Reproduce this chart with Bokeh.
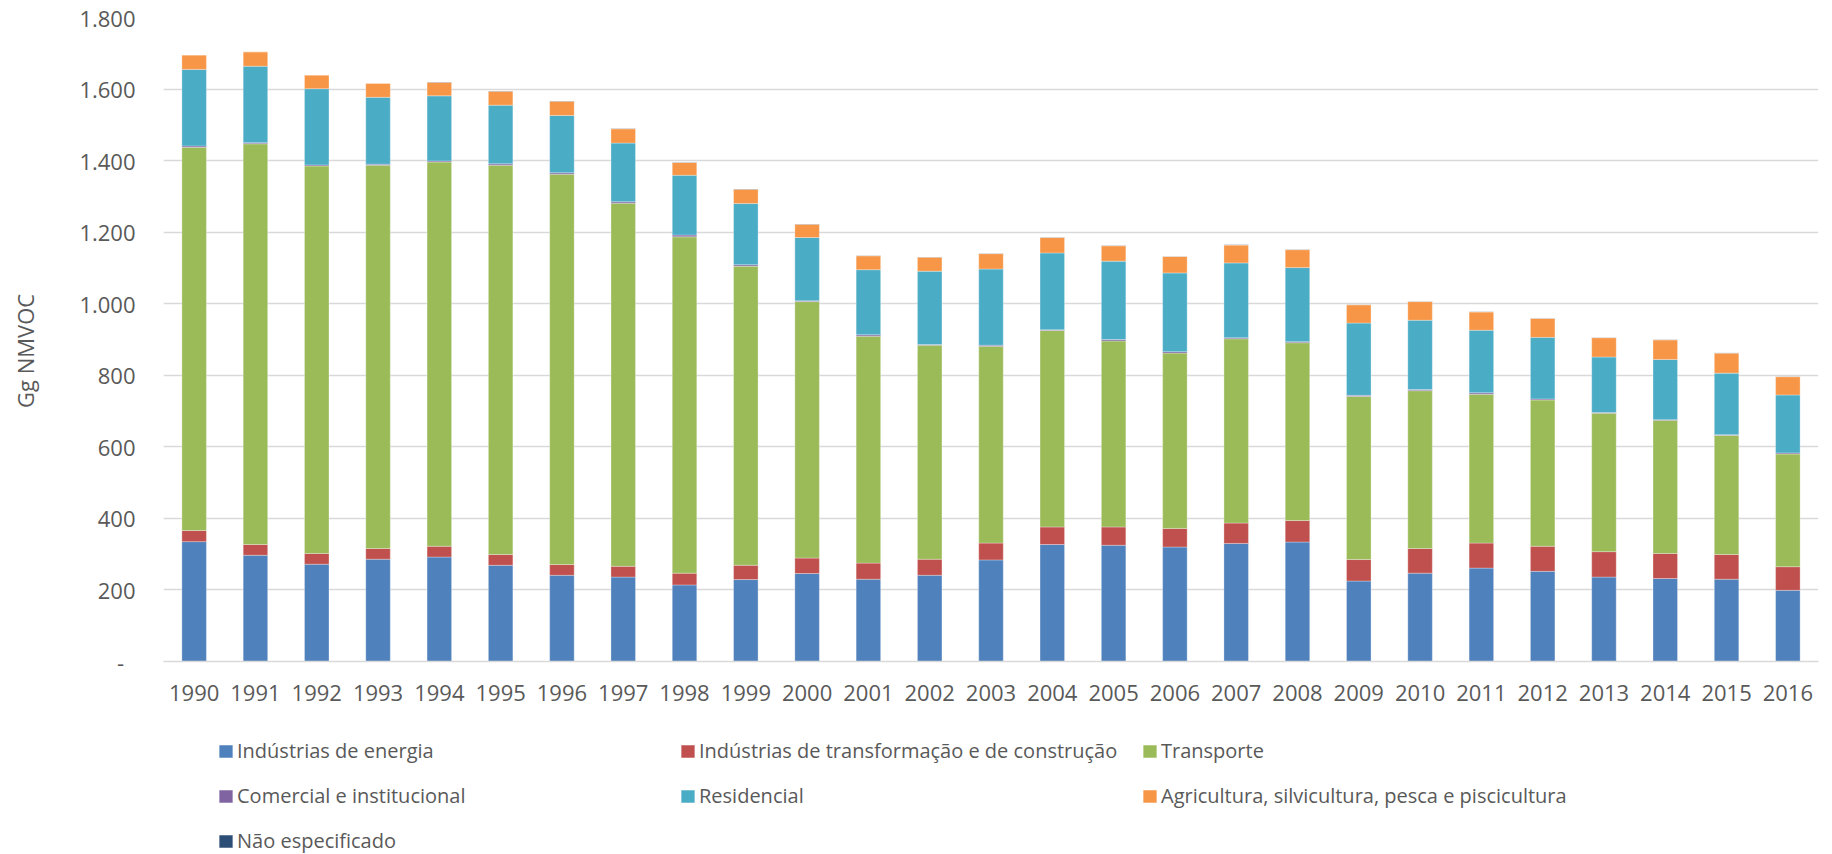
from bokeh.plotting import figure
from bokeh.models import ColumnDataSource, FixedTicker, Legend, LegendItem, FactorRange, Range1d
from bokeh.layouts import column
from bokeh.embed import file_html
from bokeh.resources import INLINE

years = [str(y) for y in range(1990, 2017)]

energia = [335, 297, 272, 286, 292, 269, 241, 236, 214, 229, 246, 230, 241, 284, 327, 325, 320, 330, 334, 225, 247, 261, 252, 236, 232, 230, 199]
transformacao = [31, 30, 30, 30, 30, 30, 30, 30, 33, 40, 43, 45, 45, 47, 49, 51, 52, 57, 60, 60, 69, 70, 70, 71, 70, 69, 66]
transporte = [1071, 1120, 1083, 1071, 1074, 1088, 1091, 1015, 940, 836, 717, 634, 598, 550, 549, 520, 490, 515, 497, 456, 441, 416, 409, 387, 372, 333, 315]
comercial = [4, 3, 3, 3, 3, 4, 4, 4, 5, 4, 2, 4, 2, 3, 2, 4, 4, 3, 3, 3, 3, 4, 3, 2, 2, 2, 3]
residencial = [214, 214, 213, 187, 182, 164, 160, 164, 167, 171, 177, 182, 205, 213, 215, 219, 220, 209, 207, 202, 194, 175, 172, 155, 168, 172, 162]
agricultura = [40, 40, 38, 39, 38, 39, 40, 40, 36, 40, 37, 39, 39, 43, 43, 43, 46, 50, 50, 51, 52, 51, 53, 54, 55, 56, 51]
nao_especificado = [0.5] * 27

series_labels = [
    "Indústrias de energia",
    "Indústrias de transformação e de construção",
    "Transporte",
    "Comercial e institucional",
    "Residencial",
    "Agricultura, silvicultura, pesca e piscicultura",
    "Não especificado",
]
colors = ["#4F81BD", "#C0504D", "#9BBB59", "#8064A2", "#4BACC6", "#F79646", "#2C4D75"]

y_ticks = [0, 200, 400, 600, 800, 1000, 1200, 1400, 1600, 1800]
y_tick_labels = ["-\u00a0\u00a0", "200", "400", "600", "800", "1.000", "1.200", "1.400", "1.600", "1.800"]

keys = ["s0", "s1", "s2", "s3", "s4", "s5", "s6"]
src = ColumnDataSource(dict(year=years, s0=energia, s1=transformacao, s2=transporte,
                            s3=comercial, s4=residencial, s5=agricultura, s6=nao_especificado))

FONT = "Open Sans"
TXT = "#595959"
GRID = "#d9d9d9"

p = figure(x_range=FactorRange(*years, range_padding=0), y_range=Range1d(0, 1800),
           width=1832, height=721, output_backend="svg", toolbar_location=None,
           min_border_left=163, min_border_right=14, min_border_top=17, min_border_bottom=60)
p.outline_line_color = None
p.background_fill_color = "white"

renderers = p.vbar_stack(keys, x="year", width=0.4, color=colors, source=src,
                         line_color="white", line_width=0.6, line_alpha=0.5)

p.xgrid.grid_line_color = None
p.ygrid.grid_line_color = GRID
p.ygrid.grid_line_width = 1.3
p.ygrid.ticker = FixedTicker(ticks=y_ticks)

p.yaxis.ticker = FixedTicker(ticks=y_ticks)
p.yaxis.major_label_overrides = {t: l for t, l in zip(y_ticks, y_tick_labels)}
p.yaxis.axis_line_color = None
p.yaxis.major_tick_line_color = None
p.yaxis.minor_tick_line_color = None
p.yaxis.major_tick_out = 0
p.yaxis.major_tick_in = 0
p.yaxis.major_label_standoff = 28
p.yaxis.major_label_text_font = FONT
p.yaxis.major_label_text_font_size = "22px"
p.yaxis.major_label_text_color = TXT
p.yaxis.axis_label = "Gg NMVOC\u00a0\u00a0\u00a0\u00a0"
p.yaxis.axis_label_text_font = FONT
p.yaxis.axis_label_text_font_size = "22px"
p.yaxis.axis_label_text_font_style = "normal"
p.yaxis.axis_label_text_color = TXT
p.yaxis.axis_label_standoff = 36

p.xaxis.axis_line_color = GRID
p.xaxis.axis_line_width = 1.3
p.xaxis.major_tick_line_color = None
p.xaxis.minor_tick_line_color = None
p.xaxis.major_tick_out = 0
p.xaxis.major_tick_in = 0
p.xaxis.major_label_standoff = 23
p.xaxis.major_label_text_font = FONT
p.xaxis.major_label_text_font_size = "22px"
p.xaxis.major_label_text_color = TXT

# legend figure (legend only; its swatch bars lie outside the visible range)
lp = figure(width=1832, height=133, output_backend="svg", toolbar_location=None,
            x_range=Range1d(0, 1), y_range=Range1d(0, 1),
            min_border_left=0, min_border_right=0, min_border_top=0, min_border_bottom=0,
            x_axis_type=None, y_axis_type=None)
lp.title.visible = False
lp.outline_line_color = None
lp.xgrid.visible = False
lp.ygrid.visible = False
legend_renderers = [lp.vbar(x=[-5], top=[-5], bottom=[-6], width=0.4, color=c, line_color="white",
                            line_width=0.6, line_alpha=0.5) for c in colors]
items = [LegendItem(label=lab, renderers=[r]) for lab, r in zip(series_labels, legend_renderers)]
legend = Legend(items=items, ncols=3, orientation="horizontal", location=(54, 0),
                glyph_width=17, glyph_height=16, label_standoff=3, label_width=424,
                label_height=27, spacing=18, padding=0, margin=0,
                border_line_color=None, background_fill_alpha=0,
                label_text_font=FONT, label_text_font_size="20px", label_text_color=TXT)
lp.add_layout(legend, "center")

layout = column(p, lp, spacing=0)
open("out.html", "w").write(file_html(layout, INLINE))
